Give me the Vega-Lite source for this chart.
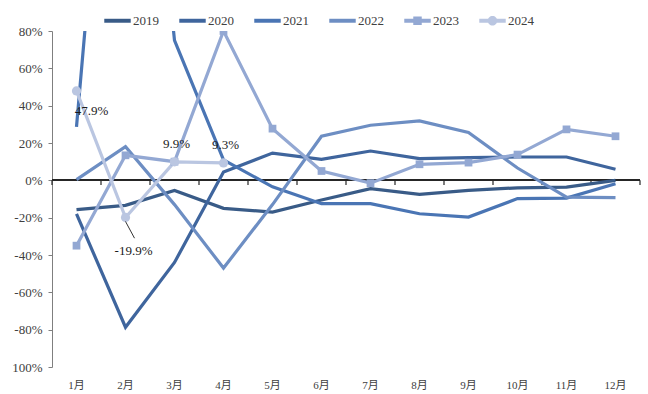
{
  "$schema": "https://vega.github.io/schema/vega-lite/v6.json",
  "width": 588,
  "height": 336,
  "autosize": {"type": "none"},
  "padding": {"left": 52, "top": 31, "right": 8, "bottom": 27},
  "background": "white",
  "config": {
    "view": {"stroke": null},
    "font": "Liberation Serif",
    "axis": {"labelFont": "Liberation Serif, Noto Sans CJK SC", "labelColor": "#404040", "grid": false, "labelOverlap": false}
  },
  "data": {
    "values": [
      {"month": "1月", "year": "2019", "value": -15.7},
      {"month": "2月", "year": "2019", "value": -13.4},
      {"month": "3月", "year": "2019", "value": -5.4},
      {"month": "4月", "year": "2019", "value": -15},
      {"month": "5月", "year": "2019", "value": -17},
      {"month": "6月", "year": "2019", "value": -10.5},
      {"month": "7月", "year": "2019", "value": -4.5},
      {"month": "8月", "year": "2019", "value": -7.5},
      {"month": "9月", "year": "2019", "value": -5.4},
      {"month": "10月", "year": "2019", "value": -4},
      {"month": "11月", "year": "2019", "value": -3.6},
      {"month": "12月", "year": "2019", "value": 0},
      {"month": "1月", "year": "2020", "value": -18},
      {"month": "2月", "year": "2020", "value": -78.7},
      {"month": "3月", "year": "2020", "value": -44},
      {"month": "4月", "year": "2020", "value": 4.5},
      {"month": "5月", "year": "2020", "value": 14.6},
      {"month": "6月", "year": "2020", "value": 11.2},
      {"month": "7月", "year": "2020", "value": 15.7},
      {"month": "8月", "year": "2020", "value": 11.6},
      {"month": "9月", "year": "2020", "value": 12.2},
      {"month": "10月", "year": "2020", "value": 12.5},
      {"month": "11月", "year": "2020", "value": 12.5},
      {"month": "12月", "year": "2020", "value": 5.9},
      {"month": "1月", "year": "2021", "value": 28.6},
      {"month": "2月", "year": "2021", "value": 330},
      {"month": "3月", "year": "2021", "value": 75},
      {"month": "4月", "year": "2021", "value": 11},
      {"month": "5月", "year": "2021", "value": -3.5},
      {"month": "6月", "year": "2021", "value": -12.5},
      {"month": "7月", "year": "2021", "value": -12.5},
      {"month": "8月", "year": "2021", "value": -17.9},
      {"month": "9月", "year": "2021", "value": -19.7},
      {"month": "10月", "year": "2021", "value": -9.8},
      {"month": "11月", "year": "2021", "value": -9.5},
      {"month": "12月", "year": "2021", "value": -1.8},
      {"month": "1月", "year": "2022", "value": 0.4},
      {"month": "2月", "year": "2022", "value": 18},
      {"month": "3月", "year": "2022", "value": -13},
      {"month": "4月", "year": "2022", "value": -47},
      {"month": "5月", "year": "2022", "value": -13},
      {"month": "6月", "year": "2022", "value": 23.6},
      {"month": "7月", "year": "2022", "value": 29.5},
      {"month": "8月", "year": "2022", "value": 31.8},
      {"month": "9月", "year": "2022", "value": 25.6},
      {"month": "10月", "year": "2022", "value": 6.6},
      {"month": "11月", "year": "2022", "value": -9},
      {"month": "12月", "year": "2022", "value": -9.3},
      {"month": "1月", "year": "2023", "value": -35},
      {"month": "2月", "year": "2023", "value": 13.4},
      {"month": "3月", "year": "2023", "value": 10},
      {"month": "4月", "year": "2023", "value": 80},
      {"month": "5月", "year": "2023", "value": 27.7},
      {"month": "6月", "year": "2023", "value": 5},
      {"month": "7月", "year": "2023", "value": -1.5},
      {"month": "8月", "year": "2023", "value": 8.6},
      {"month": "9月", "year": "2023", "value": 9.5},
      {"month": "10月", "year": "2023", "value": 13.8},
      {"month": "11月", "year": "2023", "value": 27.3},
      {"month": "12月", "year": "2023", "value": 23.6},
      {"month": "1月", "year": "2024", "value": 47.9, "label": "47.9%", "pos": "a"},
      {"month": "2月", "year": "2024", "value": -19.9, "label": "-19.9%", "pos": "b"},
      {"month": "3月", "year": "2024", "value": 9.9, "label": "9.9%", "pos": "c"},
      {"month": "4月", "year": "2024", "value": 9.3, "label": "9.3%", "pos": "c"}
    ]
  },
  "resolve": {"axis": {"x": "independent", "y": "independent"}},
  "layer": [
    {
      "mark": {"type": "rule", "color": "#262626", "strokeWidth": 1.2},
      "encoding": {
        "y": {"datum": 0, "axis": null}
      }
    },
    {
      "transform": [{"filter": "datum.year === '2019'"}],
      "mark": {"type": "rule", "color": "#262626", "strokeWidth": 1.2},
      "encoding": {
        "x": {"field": "month", "type": "ordinal", "bandPosition": 0, "sort": ["1月","2月","3月","4月","5月","6月","7月","8月","9月","10月","11月","12月"], "axis": null},
        "y": {"datum": 0, "axis": null},
        "y2": {"datum": -2.5}
      }
    },
    {
      "transform": [{"filter": "datum.year === '2019' && datum.month === '12月'"}],
      "mark": {"type": "rule", "color": "#262626", "strokeWidth": 1.2},
      "encoding": {
        "x": {"field": "month", "type": "ordinal", "bandPosition": 1, "sort": ["1月","2月","3月","4月","5月","6月","7月","8月","9月","10月","11月","12月"], "axis": null},
        "y": {"datum": 0, "axis": null},
        "y2": {"datum": -2.5}
      }
    },
    {
      "mark": {"type": "line", "strokeWidth": 3.2, "clip": true},
      "encoding": {
        "x": {
          "field": "month", "type": "ordinal",
          "sort": ["1月","2月","3月","4月","5月","6月","7月","8月","9月","10月","11月","12月"],
          "scale": {"paddingInner": 0, "paddingOuter": 0},
          "axis": {"orient": "bottom", "title": null, "domain": false, "ticks": false, "labelAngle": 0, "labelFontSize": 11, "labelPadding": 12}
        },
        "y": {
          "field": "value", "type": "quantitative",
          "scale": {"domain": [-100, 80], "nice": false, "zero": false},
          "axis": {
            "orient": "left",
            "title": null, "values": [-100,-80,-60,-40,-20,0,20,40,60,80],
            "labelExpr": "datum.value == -100 ? '100%' : datum.value + '%'",
            "labelOverlap": false,
            "labelFontSize": 13, "labelPadding": 6, "tickSize": 4,
            "domainColor": "#7f7f7f", "tickColor": "#7f7f7f"
          }
        },
        "color": {
          "field": "year", "type": "nominal",
          "scale": {
            "domain": ["2019","2020","2021","2022","2023","2024"],
            "range": ["#395b87","#3f659d","#4a75b4","#6d8ec3","#93a8d3","#bac6e1"]
          },
          "legend": {
            "title": null, "orient": "none", "direction": "horizontal",
            "legendX": 52, "legendY": -24,
            "symbolSize": 700, "labelFontSize": 13, "labelFont": "Liberation Serif",
            "labelColor": "#404040", "labelOffset": 2, "columnPadding": 20,
            "encode": {
              "symbols": {
                "update": {
                  "shape": {"signal": "datum.value === '2023' ? 'M-1,-0.15H1V0.15H-1Z M-0.32,-0.32H0.32V0.32H-0.32Z' : datum.value === '2024' ? 'M-1,-0.15H1V0.15H-1Z M0.36,0A0.36,0.36 0 1,1 -0.36,0A0.36,0.36 0 1,1 0.36,0Z' : 'M-1,-0.15H1V0.15H-1Z'"},
                  "fill": {"scale": "color", "field": "value"},
                  "strokeWidth": {"value": 0},
                  "opacity": {"value": 1}
                }
              }
            }
          }
        }
      }
    },
    {
      "transform": [{"filter": "datum.year === '2023'"}],
      "mark": {"type": "point", "shape": "square", "filled": true, "size": 60, "opacity": 1, "clip": true},
      "encoding": {
        "x": {"field": "month", "type": "ordinal", "sort": ["1月","2月","3月","4月","5月","6月","7月","8月","9月","10月","11月","12月"], "axis": null},
        "y": {"field": "value", "type": "quantitative", "axis": null},
        "color": {"field": "year", "type": "nominal", "legend": null}
      }
    },
    {
      "transform": [{"filter": "datum.year === '2024'"}],
      "mark": {"type": "point", "shape": "circle", "filled": true, "size": 85, "opacity": 1},
      "encoding": {
        "x": {"field": "month", "type": "ordinal", "sort": ["1月","2月","3月","4月","5月","6月","7月","8月","9月","10月","11月","12月"], "axis": null},
        "y": {"field": "value", "type": "quantitative", "axis": null},
        "color": {"field": "year", "type": "nominal", "legend": null}
      }
    },
    {
      "transform": [{"filter": "datum.pos === 'a'"}],
      "mark": {"type": "text", "font": "Liberation Serif", "fontSize": 13, "color": "#1a1a1a", "dx": 15, "dy": 20},
      "encoding": {
        "x": {"field": "month", "type": "ordinal", "sort": ["1月","2月","3月","4月","5月","6月","7月","8月","9月","10月","11月","12月"], "axis": null},
        "y": {"field": "value", "type": "quantitative", "axis": null},
        "text": {"field": "label"}
      }
    },
    {
      "transform": [{"filter": "datum.pos === 'b'"}],
      "mark": {"type": "text", "font": "Liberation Serif", "fontSize": 13, "color": "#1a1a1a", "dx": 8, "dy": 34},
      "encoding": {
        "x": {"field": "month", "type": "ordinal", "sort": ["1月","2月","3月","4月","5月","6月","7月","8月","9月","10月","11月","12月"], "axis": null},
        "y": {"field": "value", "type": "quantitative", "axis": null},
        "text": {"field": "label"}
      }
    },
    {
      "transform": [{"filter": "datum.pos === 'c'"}],
      "mark": {"type": "text", "font": "Liberation Serif", "fontSize": 13, "color": "#1a1a1a", "dx": 2, "dy": -18},
      "encoding": {
        "x": {"field": "month", "type": "ordinal", "sort": ["1月","2月","3月","4月","5月","6月","7月","8月","9月","10月","11月","12月"], "axis": null},
        "y": {"field": "value", "type": "quantitative", "axis": null},
        "text": {"field": "label"}
      }
    },
    {
      "transform": [{"filter": "datum.pos === 'b'"}],
      "mark": {"type": "rule", "color": "#333333", "strokeWidth": 1, "yOffset": 4, "x2Offset": 9},
      "encoding": {
        "x": {"field": "month", "type": "ordinal", "sort": ["1月","2月","3月","4月","5月","6月","7月","8月","9月","10月","11月","12月"], "axis": null},
        "x2": {"field": "month"},
        "y": {"field": "value", "type": "quantitative", "axis": null},
        "y2": {"datum": -31}
      }
    }
  ]
}
